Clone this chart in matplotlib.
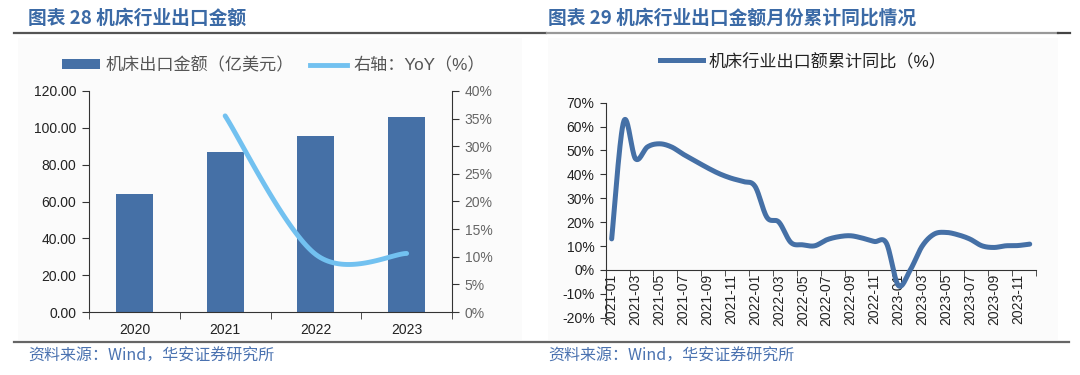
import numpy as np
import matplotlib
matplotlib.use("Agg")
import matplotlib.pyplot as plt
from matplotlib.patches import Rectangle, Patch
from matplotlib.lines import Line2D

plt.rcParams['font.family'] = ['Liberation Sans', 'Noto Sans CJK SC', 'DejaVu Sans']

# ---------------- data ----------------
years = ["2020", "2021", "2022", "2023"]
export_amount = [64.1, 87.0, 95.7, 105.7]          # 亿美元
yoy_years = ["2021", "2022", "2023"]
yoy = [35.5, 10.4, 10.6]                            # %

months = [f"{y}-{m:02d}" for y in (2021, 2022, 2023) for m in range(1, 13)]
cum_yoy = [13.0, 62.0, 46.5, 51.5, 52.8, 51.5, 48.4, 45.6, 42.8, 40.3, 38.4, 37.0,
           35.0, 22.0, 20.0, 11.5, 10.5, 10.1, 12.6, 13.9, 14.3, 13.3, 11.9, 11.2,
           -6.5, 0.0, 10.0, 15.0, 15.7, 14.7, 12.9, 10.1, 9.4, 10.1, 10.2, 10.8]

BAR = "#4570a6"
LIGHT = "#72c1f0"
TITLE = "#3b6aa6"


def smooth(xs, ys, n=40):
    """Excel-like smoothed line (Bezier with Catmull-Rom control points)."""
    xs = np.asarray(xs, float); ys = np.asarray(ys, float)
    P = np.column_stack([xs, ys])
    out = []
    for i in range(len(P) - 1):
        p0 = P[i - 1] if i > 0 else P[i]
        p1, p2 = P[i], P[i + 1]
        p3 = P[i + 2] if i + 2 < len(P) else P[i + 1]
        c1 = p1 + (p2 - p0) / 6.0
        c2 = p2 - (p3 - p1) / 6.0
        t = np.linspace(0, 1, n)[:, None]
        seg = ((1 - t) ** 3) * p1 + 3 * ((1 - t) ** 2) * t * c1 + 3 * (1 - t) * t ** 2 * c2 + t ** 3 * p2
        out.append(seg if i == 0 else seg[1:])
    s = np.vstack(out)
    return s[:, 0], s[:, 1]


W, H = 1080, 375
fig = plt.figure(figsize=(W / 100, H / 100), dpi=100)

# panel backgrounds
for x0, x1 in [(18, 522), (548, 1058)]:
    fig.patches.append(Rectangle((x0 / W, 1 - 340 / H), (x1 - x0) / W, (340 - 38) / H,
                                 transform=fig.transFigure, facecolor="#fbfbfb",
                                 edgecolor="none", zorder=-10))

# titles and rules
fig.text(28 / W, 1 - 18 / H, "图表 28 机床行业出口金额", fontsize=13.5, fontweight="bold",
         color=TITLE, va="center", ha="left", family=['Noto Sans CJK SC'])
fig.text(548 / W, 1 - 18 / H, "图表 29 机床行业出口金额月份累计同比情况", fontsize=13.5,
         fontweight="bold", color=TITLE, va="center", ha="left", family=['Noto Sans CJK SC'])
fig.add_artist(Line2D([14 / W, 546 / W], [1 - 33 / H] * 2, color="#555555", lw=1.6))
fig.add_artist(Line2D([547 / W, 1058 / W], [1 - 33 / H] * 2, color="#999999", lw=1.6))
fig.add_artist(Line2D([1058 / W, 1070 / W], [1 - 33 / H] * 2, color="#444444", lw=1.6))
fig.add_artist(Line2D([14 / W, 1069 / W], [1 - 342 / H] * 2, color="#666666", lw=1.6))
fig.text(28 / W, 1 - 356 / H, "资料来源：Wind，华安证券研究所", fontsize=11.5, color="#4a72b0",
         va="center", ha="left", family=['Noto Sans CJK SC', 'Liberation Sans'])
fig.text(548 / W, 1 - 356 / H, "资料来源：Wind，华安证券研究所", fontsize=11.5, color="#4a72b0",
         va="center", ha="left", family=['Noto Sans CJK SC', 'Liberation Sans'])

# ---------------- left chart ----------------
ax = fig.add_axes([89 / W, 1 - 312 / H, (452 - 89) / W, 221 / H])
ax.set_facecolor("none")
xpos = np.arange(len(years))
ax.bar(xpos, export_amount, width=0.41, color=BAR, zorder=2)
ax.set_xlim(-0.5, len(years) - 0.5)
ax.set_ylim(0, 120)
ax.set_yticks(np.arange(0, 121, 20))
ax.set_yticklabels([f"{v:.2f}" for v in np.arange(0, 121, 20)])
ax.set_xticks(xpos)
ax.set_xticklabels(years)
ax.set_xticks(np.arange(-0.5, len(years), 1), minor=True)
ax.tick_params(axis="x", which="major", length=0, pad=8, labelsize=10, labelcolor="#222222")
ax.tick_params(axis="x", which="minor", length=5, direction="out", color="#333333")
ax.tick_params(axis="y", length=5, direction="out", labelsize=10, labelcolor="#222222",
               color="#333333", pad=4)
for s in ["top", "right"]:
    ax.spines[s].set_visible(False)
for s in ["left", "bottom"]:
    ax.spines[s].set_color("#333333")

ax2 = ax.twinx()
ax2.set_ylim(0, 40)
ax2.set_yticks(np.arange(0, 41, 5))
ax2.set_yticklabels([f"{v}%" for v in range(0, 41, 5)])
ax2.tick_params(axis="y", length=5, direction="out", labelsize=10, labelcolor="#666666",
                color="#333333", pad=4)
for s in ["top", "left", "bottom"]:
    ax2.spines[s].set_visible(False)
ax2.spines["right"].set_color("#333333")
yx = [years.index(y) for y in yoy_years]
sx, sy = smooth(yx, yoy)
ax2.plot(sx, sy, color=LIGHT, lw=3.5, solid_capstyle="round", zorder=3)

handles = [Patch(facecolor=BAR, edgecolor="none"), Line2D([], [], color=LIGHT, lw=3.5)]
fig.legend(handles, ["机床出口金额（亿美元）", "右轴：YoY（%）"], loc="center left",
           bbox_to_anchor=(47 / W, 1 - 65 / H), ncol=2, frameon=False, fontsize=12.3,
           handlelength=2.2, handleheight=0.55, handletextpad=0.35, columnspacing=0.9,
           labelcolor="#555555")

# ---------------- right chart ----------------
bx = fig.add_axes([605.7 / W, 1 - 317.7 / H, 430 / W, 215 / H])
bx.set_facecolor("none")
mx = np.arange(len(months))
sx, sy = smooth(mx, cum_yoy, n=30)
bx.plot(sx, sy, color=BAR, lw=3.6, solid_capstyle="round", zorder=3)
bx.set_xlim(-0.5, len(months) - 0.5)
bx.set_ylim(-20, 70)
bx.set_yticks(np.arange(-20, 71, 10))
bx.set_yticklabels([f"{v}%" for v in range(-20, 71, 10)])
bx.tick_params(axis="y", length=4, direction="out", labelsize=10, labelcolor="#222222",
               color="#333333", pad=4)
bx.spines["bottom"].set_position(("data", 0))
for s in ["top", "right"]:
    bx.spines[s].set_visible(False)
for s in ["left", "bottom"]:
    bx.spines[s].set_color("#333333")
bx.set_xticks(mx[::2])
bx.set_xticklabels(months[::2], rotation=90, va="top", ha="center")
bx.set_xticks(np.arange(-0.5, len(months), 2), minor=True)
bx.tick_params(axis="x", which="major", length=0, pad=3, labelsize=10, labelcolor="#222222")
bx.tick_params(axis="x", which="minor", length=4, direction="out", color="#333333")

fig.legend([Line2D([], [], color=BAR, lw=3.6)], ["机床行业出口额累计同比（%）"],
           loc="center left", bbox_to_anchor=(645 / W, 1 - 61 / H), frameon=False,
           fontsize=12.3, handlelength=2.5, handletextpad=0.3, labelcolor="#222222")

fig.savefig("out.png", dpi=100)
